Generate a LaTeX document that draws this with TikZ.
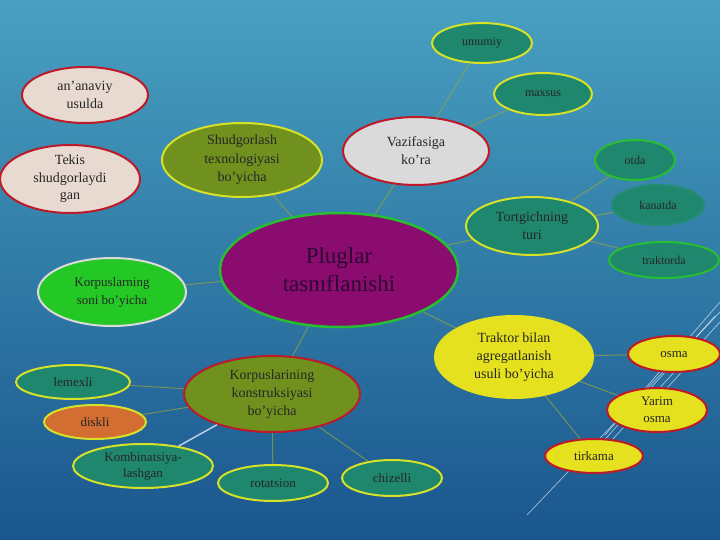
\documentclass[tikz,border=0pt]{standalone}
\usepackage{fontspec}
\setmainfont{Liberation Serif}
\usetikzlibrary{shapes.geometric}
\definecolor{bgtop}{RGB}{72,160,192}
\definecolor{bgbot}{RGB}{26,86,142}
\definecolor{teal}{RGB}{30,135,110}
\definecolor{olive}{RGB}{112,145,30}
\definecolor{purp}{RGB}{138,12,110}
\definecolor{ylw}{RGB}{230,225,30}
\definecolor{ylwb}{RGB}{215,225,40}
\definecolor{redb}{RGB}{190,25,40}
\definecolor{grnb}{RGB}{40,190,50}
\definecolor{cream}{RGB}{232,218,208}
\definecolor{lgrey}{RGB}{218,218,218}
\definecolor{brgreen}{RGB}{36,200,36}
\definecolor{orng}{RGB}{210,110,50}
\definecolor{connc}{RGB}{150,165,60}
\begin{document}
\begin{tikzpicture}[x=1pt,y=-1pt,
  bub/.style={ellipse,inner sep=0pt,line width=2pt,align=center,text=black!85,
    font=\fontsize{13}{17}\selectfont},
  link/.style={draw=connc,line width=1pt,opacity=0.7},
]
\shade[top color=bgtop,bottom color=bgbot] (0,0) rectangle (720,540);
\useasboundingbox (0,0) rectangle (720,540);
% decorative lines
\foreach \a/\b/\c/\d in {720/302/605/435, 720/312/527/515, 720/322/612/440, 706/345/640/418, 715/316/600/445}
  \draw[white,opacity=0.6,line width=0.7pt] (\a,\b) -- (\c,\d);

% nodes
\node[bub,fill=purp,draw=grnb,line width=2.5pt,minimum width=238pt,minimum height=114pt,
  text={rgb,255:red,45;green,8;blue,50},font=\fontsize{23}{28}\selectfont] (c) at (339,270) {Pluglar\\tasnıflanishi};

\node[bub,fill=olive,draw=ylwb,minimum width=160pt,minimum height=74pt,font=\fontsize{14}{18.5}\selectfont] (sh) at (242,160) {Shudgorlash\\texnologiyasi\\bo’yicha};
\node[bub,fill=cream,draw=redb,minimum width=126pt,minimum height=56pt,font=\fontsize{14}{18}\selectfont] (an) at (85,95) {an’anaviy\\usulda};
\node[bub,fill=cream,draw=redb,minimum width=140pt,minimum height=68pt,font=\fontsize{14}{17.5}\selectfont] (te) at (70,179) {Tekis\\shudgorlaydi\\gan};

\node[bub,fill=lgrey,draw=redb,minimum width=146pt,minimum height=68pt,font=\fontsize{14}{18}\selectfont] (va) at (416,151) {Vazifasiga\\ko’ra};
\node[bub,fill=teal,draw=ylwb,minimum width=100pt,minimum height=40pt,font=\fontsize{12}{15}\selectfont] (um) at (482,43) {umumiy};
\node[bub,fill=teal,draw=ylwb,minimum width=98pt,minimum height=42pt,font=\fontsize{12}{15}\selectfont] (ma) at (543,94) {maxsus};

\node[bub,fill=teal,draw=ylwb,minimum width=132pt,minimum height=58pt,font=\fontsize{14}{18}\selectfont] (to) at (532,226) {Tortgichning\\turi};
\node[bub,fill=teal,draw=grnb,minimum width=80pt,minimum height=40pt,font=\fontsize{12}{15}\selectfont] (ot) at (635,160) {otda};
\node[bub,fill=teal,draw={rgb,255:red,35;green,140;blue,115},minimum width=92pt,minimum height=40pt,font=\fontsize{12}{15}\selectfont] (ka) at (658,205) {kanatda};
\node[bub,fill=teal,draw=grnb,minimum width=110pt,minimum height=36pt,font=\fontsize{12}{15}\selectfont] (tr) at (664,260) {traktorda};

\node[bub,fill=brgreen,draw=lgrey,minimum width=148pt,minimum height=68pt,font=\fontsize{13}{18}\selectfont] (ks) at (112,292) {Korpuslarning\\soni bo’yicha};

\node[bub,fill=ylw,draw=ylw,minimum width=158pt,minimum height=82pt,font=\fontsize{14}{18}\selectfont] (ta) at (514,357) {Traktor bilan\\agregatlanish\\usuli bo’yicha};
\node[bub,fill=ylw,draw=redb,minimum width=92pt,minimum height=36pt] (os) at (674,354) {osma};
\node[bub,fill=ylw,draw=redb,minimum width=100pt,minimum height=44pt,font=\fontsize{13}{17}\selectfont] (yo) at (657,410) {Yarim\\osma};
\node[bub,fill=ylw,draw=redb,minimum width=98pt,minimum height=34pt] (ti) at (594,456) {tirkama};

\node[bub,fill=olive,draw=redb,minimum width=176pt,minimum height=76pt,font=\fontsize{14}{18}\selectfont] (kk) at (272,394) {Korpuslarining\\konstruksiyasi\\bo’yicha};
\node[bub,fill=teal,draw=ylwb,minimum width=114pt,minimum height=34pt] (le) at (73,382) {lemexli};
\node[bub,fill=orng,draw=ylwb,minimum width=102pt,minimum height=34pt] (di) at (95,422) {diskli};
\node[bub,fill=teal,draw=ylwb,minimum width=140pt,minimum height=44pt,font=\fontsize{13}{16}\selectfont] (ko) at (143,466) {Kombinatsiya-\\lashgan};
\node[bub,fill=teal,draw=ylwb,minimum width=110pt,minimum height=36pt] (ro) at (273,483) {rotatsion};
\node[bub,fill=teal,draw=ylwb,minimum width=100pt,minimum height=36pt] (ch) at (392,478) {chizelli};

% connectors
\draw[link] (c) -- (sh);
\draw[link] (c) -- (va);
\draw[link] (va) -- (um);
\draw[link] (va) -- (ma);
\draw[link] (c) -- (to);
\draw[link] (to) -- (ot);
\draw[link] (to) -- (ka);
\draw[link] (to) -- (tr);
\draw[link] (c) -- (ks);
\draw[link] (c) -- (ta);
\draw[link] (ta) -- (os);
\draw[link] (ta) -- (yo);
\draw[link] (ta) -- (ti);
\draw[link] (c) -- (kk);
\draw[link] (kk) -- (le);
\draw[link] (kk) -- (di);
\draw[link,draw={rgb,255:red,200;green,220;blue,240},line width=1.5pt,opacity=0.9] (kk) -- (ko);
\draw[link] (kk) -- (ro);
\draw[link] (kk) -- (ch);
\end{tikzpicture}
\end{document}
